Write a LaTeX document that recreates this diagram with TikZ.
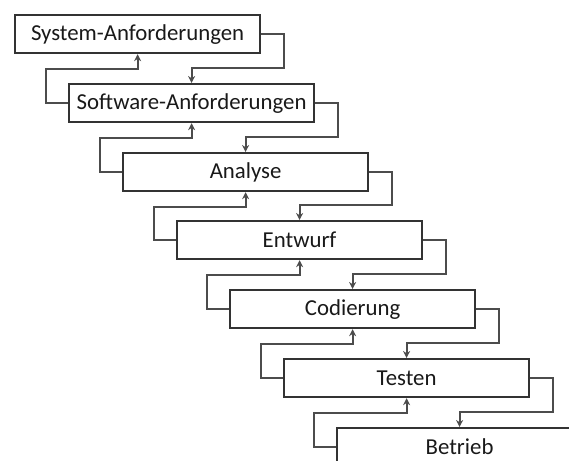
\documentclass[tikz,border=0pt]{standalone}
\usepackage{fontspec}
\setmainfont{Carlito}
\usetikzlibrary{arrows.meta}

\begin{document}
\begin{tikzpicture}[x=0.5pt,y=-0.5pt,
  phase/.style={draw=black!80, line width=1.1pt, fill=white, minimum width=122.5pt, minimum height=19pt, inner sep=0pt, anchor=north west, text=black!90, font=\fontsize{11.4}{13}\selectfont},
  flow/.style={draw=black!70, line width=0.9pt, -{Stealth[length=3.5pt,width=3.5pt]}}]
\useasboundingbox (0,0) rectangle (569,461);
\clip (0,0) rectangle (569,461);
\node[phase] (sys) at (14,14) {System-Anforderungen};
\node[phase] (sw) at (68,83) {Software-Anforderungen};
\node[phase] (ana) at (122,152) {Analyse};
\node[phase] (ent) at (176,220) {Entwurf};
\node[phase] (cod) at (229,289) {Codierung};
\node[phase] (tst) at (283,358) {Testen};
\node[phase] (btr) at (336,427) {Betrieb};
\draw[flow] (sys.east) -- ++(23,0) |- ([yshift=7.5pt]sw.north) -- (sw.north);
\draw[flow] (sw.east) -- ++(23,0) |- ([yshift=7.5pt]ana.north) -- (ana.north);
\draw[flow] (ana.east) -- ++(23,0) |- ([yshift=7.5pt]ent.north) -- (ent.north);
\draw[flow] (ent.east) -- ++(23,0) |- ([yshift=7.5pt]cod.north) -- (cod.north);
\draw[flow] (cod.east) -- ++(23,0) |- ([yshift=7.5pt]tst.north) -- (tst.north);
\draw[flow] (tst.east) -- ++(23,0) |- ([yshift=7.5pt]btr.north) -- (btr.north);
\draw[flow] (sw.west) -- ++(-22,0) |- ([yshift=-7.5pt]sys.south) -- (sys.south);
\draw[flow] (ana.west) -- ++(-22,0) |- ([yshift=-7.5pt]sw.south) -- (sw.south);
\draw[flow] (ent.west) -- ++(-22,0) |- ([yshift=-7.5pt]ana.south) -- (ana.south);
\draw[flow] (cod.west) -- ++(-22,0) |- ([yshift=-7.5pt]ent.south) -- (ent.south);
\draw[flow] (tst.west) -- ++(-22,0) |- ([yshift=-7.5pt]cod.south) -- (cod.south);
\draw[flow] (btr.west) -- ++(-22,0) |- ([yshift=-7.5pt]tst.south) -- (tst.south);
\end{tikzpicture}
\end{document}
